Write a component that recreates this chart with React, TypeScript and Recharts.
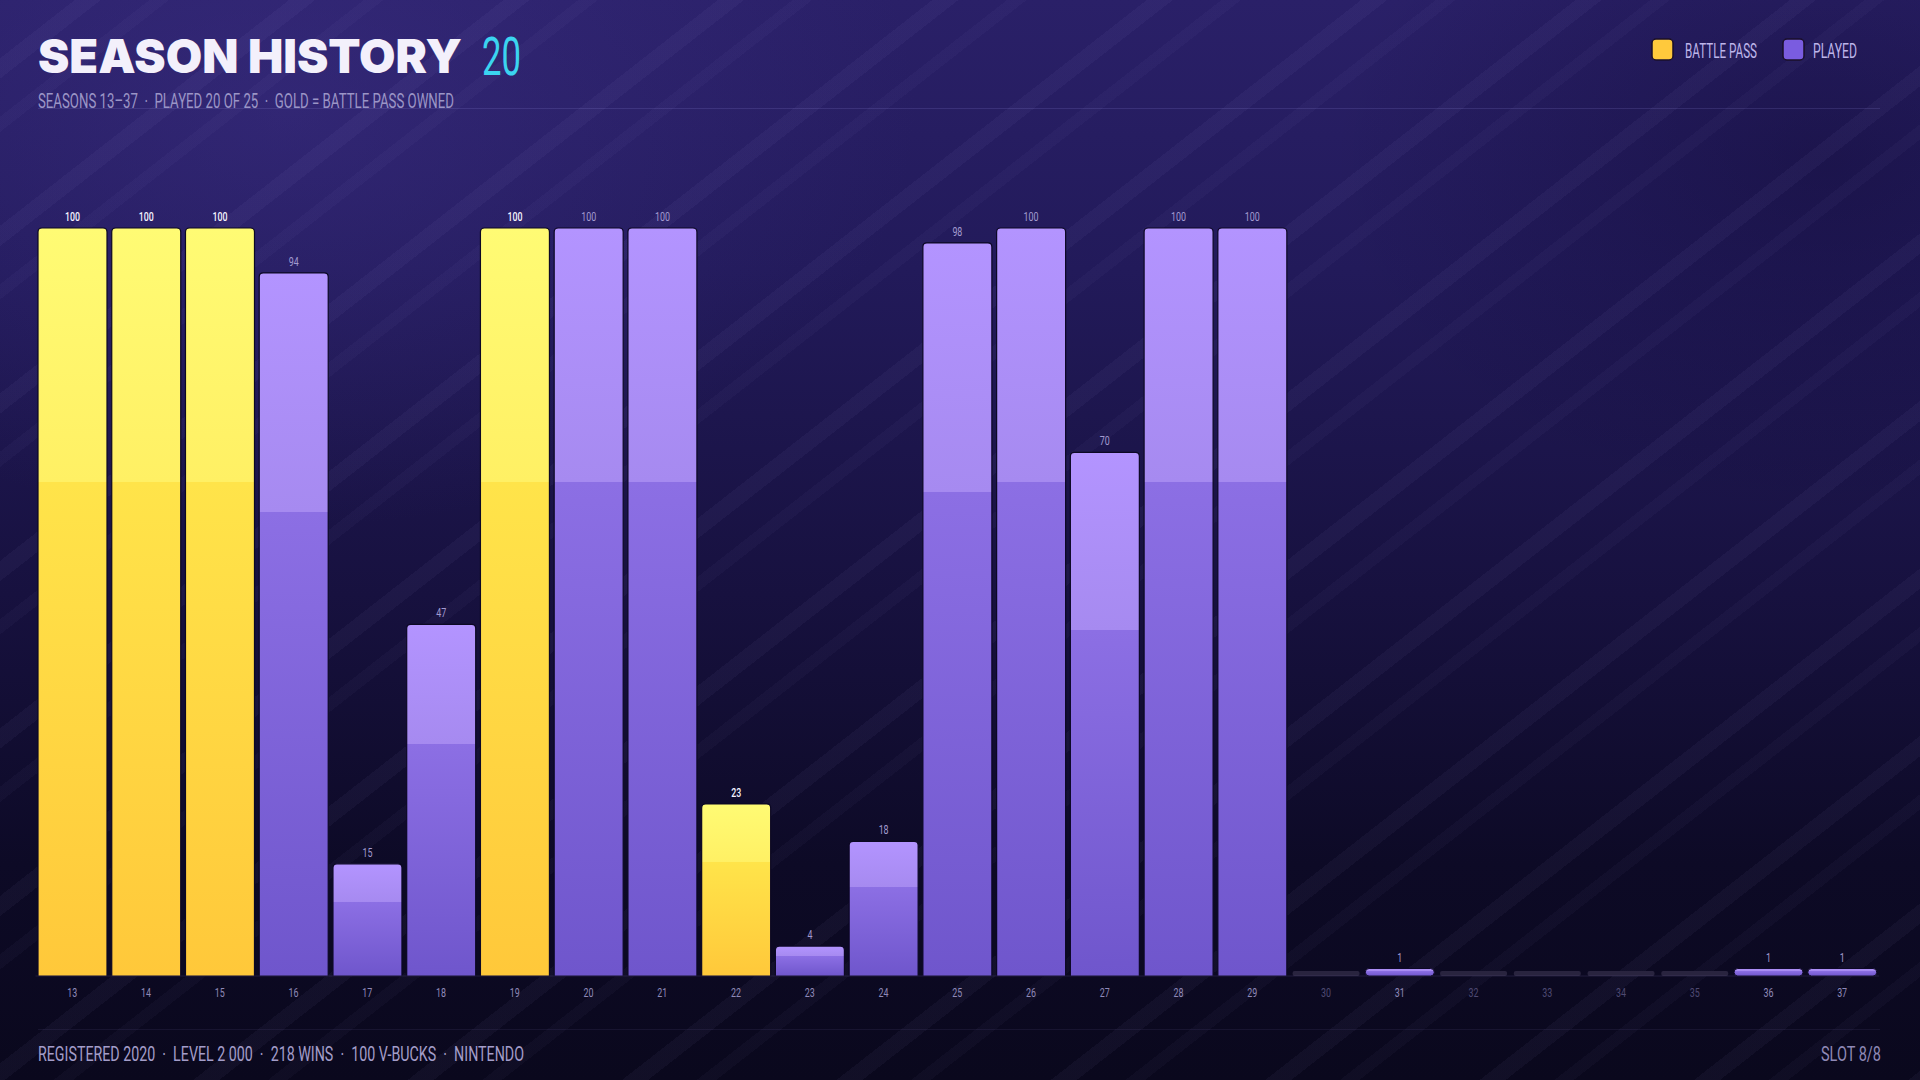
import React from 'react';
import { BarChart, Bar, XAxis, YAxis, LabelList } from 'recharts';

const SEASONS = ['13','14','15','16','17','18','19','20','21','22','23','24','25','26','27','28','29','30','31','32','33','34','35','36','37'];
const PROGRESS = [100,100,100,94,15,47,100,100,100,23,4,18,98,100,70,100,100,0,1,0,0,0,0,1,1];
const BATTLE_PASS = [1,1,1,0,0,0,1,0,0,1,0,0,0,0,0,0,0,0,0,0,0,0,0,0,0];
const LEGEND = [
  { label: 'BATTLE PASS', color: '#FFC93C' },
  { label: 'PLAYED', color: '#7A5CE0' },
];
const TITLE = 'SEASON HISTORY';
const TITLE_COUNT = '20';
const SUBTITLE = 'SEASONS 13–37  ·  PLAYED 20 OF 25  ·  GOLD = BATTLE PASS OWNED';
const FOOTER = 'REGISTERED 2020  ·  LEVEL 2 000  ·  218 WINS  ·  100 V-BUCKS  ·  NINTENDO';
const SLOT = 'SLOT 8/8';

const data = SEASONS.map((s, i) => ({ season: s, progress: PROGRESS[i], bp: BATTLE_PASS[i] === 1 }));

const COND = "Roboto, 'Liberation Sans', sans-serif";

function BarShape(props: any) {
  const { x, y, width, height } = props;
  const p = props.payload || props;
  if (!p || p.progress === 0) {
    const h = 5;
    return <rect x={x + 1} y={y - h} width={width - 2} height={h} rx={2} fill="#29243f" />;
  }
  const fill = p.bp ? 'url(#gradGold)' : 'url(#gradPurple)';
  if (height < 10) {
    const r = Math.min(4, height / 2);
    return <rect x={x} y={y} width={width} height={height} rx={r} ry={r} fill={fill} stroke="#0c0824" strokeWidth={1} />;
  }
  const r = 4;
  const d = `M${x},${y + height} L${x},${y + r} Q${x},${y} ${x + r},${y} L${x + width - r},${y} Q${x + width},${y} ${x + width},${y + r} L${x + width},${y + height} Z`;
  return <path d={d} fill={fill} stroke="#0c0824" strokeWidth={1.2} />;
}

function ValueLabel(props: any) {
  const { x, y, width, value, index } = props;
  if (!value) return null;
  const bp = data[index]?.bp;
  const len = String(value).length * 5;
  return (
    <text x={x + width / 2 - len / 2} y={y - 7} fontFamily={COND} fontSize={12} fontWeight={bp ? 500 : 400}
      textLength={len} lengthAdjust="spacingAndGlyphs"
      fill={bp ? '#f6f3ff' : '#a39bd0'}>{value}</text>
  );
}

function SeasonTick(props: any) {
  const { x, y, payload, index } = props;
  const played = data[index] && data[index].progress > 0;
  const len = String(payload.value).length * 5;
  return (
    <text x={x - len / 2} y={y + 13} fontFamily={COND} fontSize={13}
      textLength={len} lengthAdjust="spacingAndGlyphs"
      fill={played ? '#8f89b8' : '#4e4972'}>{payload.value}</text>
  );
}

export default function App() {
  React.useEffect(() => { document.body.style.margin = '0'; }, []);
  return (
    <div style={{
      position: 'fixed', left: 0, top: 0, width: 1920, height: 1080, overflow: 'hidden',
      background: 'linear-gradient(180deg, #2a2068 0%, #221a5a 25%, #17113f 55%, #0d0a26 80%, #0a081d 100%)',
    }}>
      <div style={{ position: 'absolute', inset: 0,
        background: 'radial-gradient(ellipse 900px 600px at 15% 10%, rgba(70,55,150,0.35), rgba(0,0,0,0) 70%), radial-gradient(ellipse 700px 500px at 95% 15%, rgba(10,5,40,0.35), rgba(0,0,0,0) 70%)' }} />
      <div style={{ position: 'absolute', inset: 0,
        background: 'repeating-linear-gradient(142deg, rgba(255,255,255,0) 0px, rgba(255,255,255,0) 46px, rgba(190,180,255,0.045) 46px, rgba(190,180,255,0.045) 62px, rgba(255,255,255,0) 62px, rgba(255,255,255,0) 92px, rgba(190,180,255,0.03) 92px, rgba(190,180,255,0.03) 104px, rgba(255,255,255,0) 104px, rgba(255,255,255,0) 132px)' }} />
      <div style={{ position: 'absolute', left: 0, top: 0 }}>
        <BarChart width={1920} height={1080} data={data} margin={{ top: 228, right: 41, left: 35.5, bottom: 74 }} barCategoryGap={2.5}>
          <defs>
            <linearGradient id="gradGold" x1="0" y1="0" x2="0" y2="1">
              <stop offset="0" stopColor="#fffb74" />
              <stop offset="0.34" stopColor="#fff064" />
              <stop offset="0.34" stopColor="#ffe44a" />
              <stop offset="1" stopColor="#ffc83a" />
            </linearGradient>
            <linearGradient id="gradPurple" x1="0" y1="0" x2="0" y2="1">
              <stop offset="0" stopColor="#b394ff" />
              <stop offset="0.34" stopColor="#a68af0" />
              <stop offset="0.34" stopColor="#8c6fe4" />
              <stop offset="1" stopColor="#6f56cc" />
            </linearGradient>
          </defs>
          <XAxis dataKey="season" height={30} interval={0} tickLine={false}
            axisLine={{ stroke: 'rgba(180,170,255,0.12)' }} tick={<SeasonTick />} />
          <YAxis hide domain={[0, 100]} />
          <Bar dataKey="progress" isAnimationActive={false} shape={<BarShape />}>
            <LabelList dataKey="progress" content={<ValueLabel />} />
          </Bar>
        </BarChart>
      </div>
      <svg width={1920} height={1080} style={{ position: 'absolute', left: 0, top: 0, pointerEvents: 'none' }}>
        <text x={38} y={73} fontFamily="Inter, 'DejaVu Sans', sans-serif" fontWeight={900} fontSize={47}
          textLength={424} lengthAdjust="spacingAndGlyphs" fill="#f3f0fb" style={{ whiteSpace: 'pre' }}>{TITLE}</text>
        <text x={482} y={75} fontFamily={COND} fontWeight={400} fontSize={53}
          textLength={39} lengthAdjust="spacingAndGlyphs" fill="#3bd4f0">{TITLE_COUNT}</text>
        <text x={38} y={107.5} fontFamily={COND} fontSize={21}
          textLength={416} lengthAdjust="spacingAndGlyphs" fill="#9b95c6" style={{ whiteSpace: 'pre' }}>{SUBTITLE}</text>
        <line x1={38} x2={1880} y1={108.5} y2={108.5} stroke="rgba(180,170,255,0.14)" strokeWidth={1} />
        <rect x={1652} y={39} width={21} height={21} rx={4} fill={LEGEND[0].color} stroke="#1a0f2a" strokeWidth={1.5} />
        <text x={1685} y={57.5} fontFamily={COND} fontSize={20} textLength={72} lengthAdjust="spacingAndGlyphs"
          fill="#bdb5ea" style={{ whiteSpace: 'pre' }}>{LEGEND[0].label}</text>
        <rect x={1783} y={39} width={21} height={21} rx={4} fill={LEGEND[1].color} stroke="#1a0f2a" strokeWidth={1.5} />
        <text x={1813} y={57.5} fontFamily={COND} fontSize={20} textLength={44} lengthAdjust="spacingAndGlyphs"
          fill="#bdb5ea">{LEGEND[1].label}</text>
        <line x1={38} x2={1880} y1={1029.5} y2={1029.5} stroke="rgba(180,170,255,0.08)" strokeWidth={1} />
        <text x={38} y={1060.5} fontFamily={COND} fontSize={21}
          textLength={486} lengthAdjust="spacingAndGlyphs" fill="#a39dc9" style={{ whiteSpace: 'pre' }}>{FOOTER}</text>
        <text x={1821} y={1060.5} fontFamily={COND} fontSize={21}
          textLength={60} lengthAdjust="spacingAndGlyphs" fill="#8f89b6" style={{ whiteSpace: 'pre' }}>{SLOT}</text>
      </svg>
    </div>
  );
}
